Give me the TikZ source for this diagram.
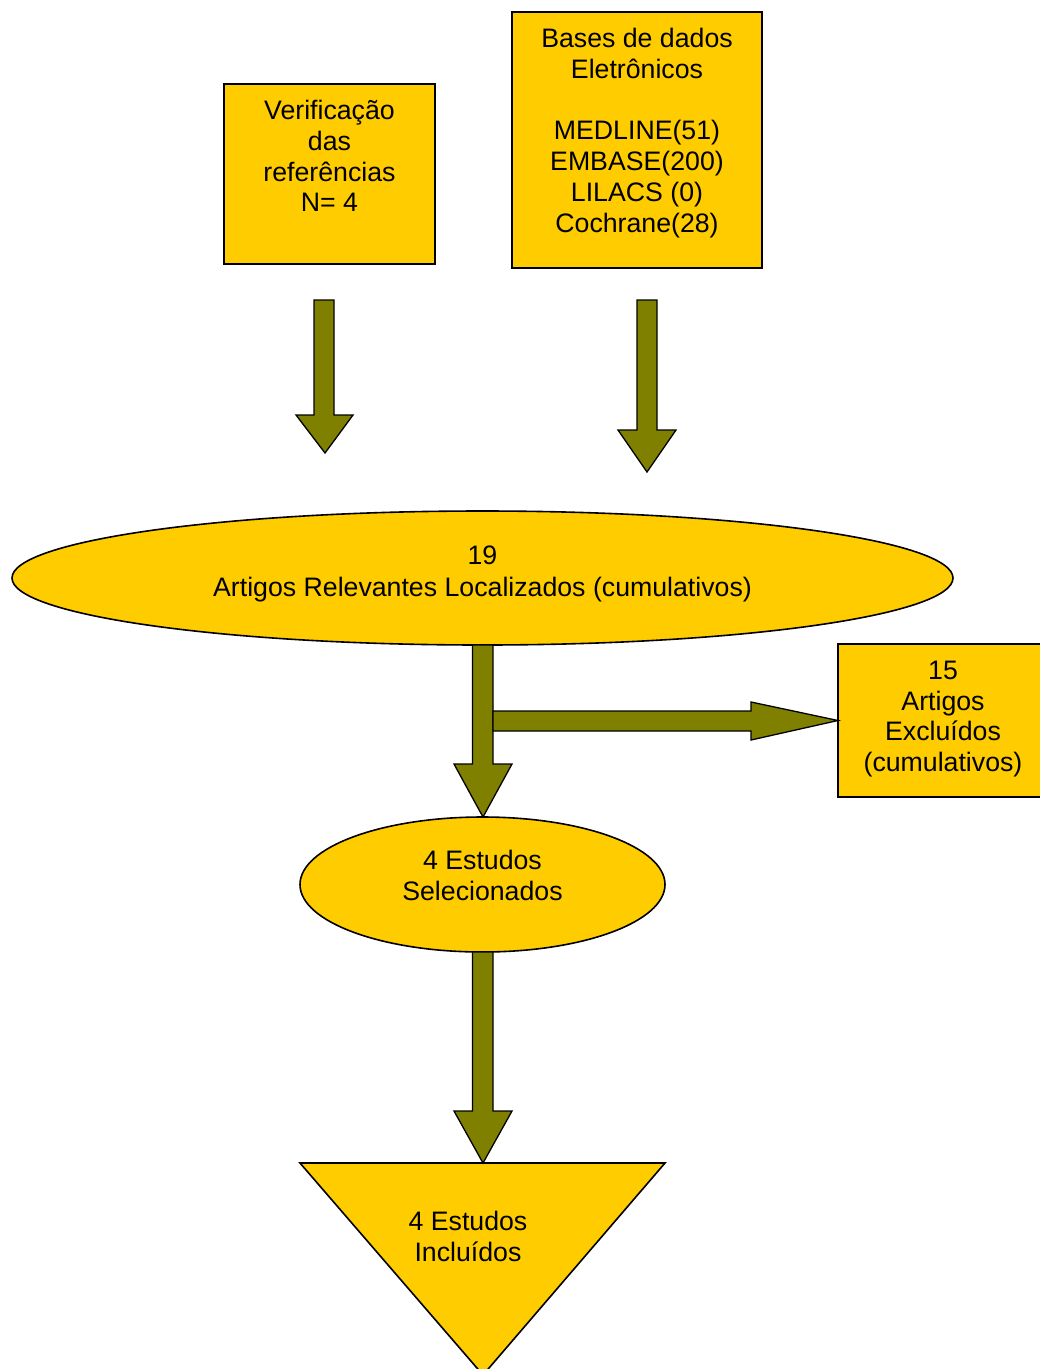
\documentclass[tikz,border=0pt]{standalone}
\usepackage{fontspec}
\setmainfont{Liberation Sans}
\usetikzlibrary{shapes.geometric}
\definecolor{gold}{HTML}{FFCC00}
\definecolor{olivefill}{HTML}{808000}
\begin{document}
\begin{tikzpicture}[x=1pt,y=-1pt,
  every node/.style={font=\fontsize{26.7}{30.8}\selectfont, text=black},
  boxshape/.style={draw=black, line width=1.6pt, fill=gold, rectangle, inner sep=0pt},
  ellshape/.style={draw=black, line width=1.6pt, fill=gold, ellipse, inner sep=0pt},
  fat/.style={draw=black, line width=1.3pt, fill=olivefill, line join=miter},
  label/.style={align=center, inner sep=0pt}]
\useasboundingbox (0,0) rectangle (1040,1369);
\fill[white] (0,0) rectangle (1040,1369);

% top boxes
\node[boxshape, minimum width=211pt, minimum height=180pt] (verif) at (329.5,174) {};
\node[label] (verifT) at (329.5,156) {Verificação\\das\\referências\\N= 4};
\node[boxshape, minimum width=250pt, minimum height=256pt] (bases) at (637,140) {};
\node[label] (basesT) at (637,133) {Bases de dados\\Eletrônicos\\[30.8pt]MEDLINE(51)\\EMBASE(200)\\LILACS (0)\\Cochrane(28)};

% big ellipse
\node[ellshape, minimum width=941pt, minimum height=134pt] (relev) at (482.5,578) {};
\node[label] (relevT) at (482.5,574) {19\\[1.5pt]Artigos Relevantes Localizados (cumulativos)};

% excluded box
\node[boxshape, minimum width=210pt, minimum height=153pt] (excl) at (943,720.5) {};
\node[label] (exclT) at (943,719) {15\\Artigos\\Excluídos\\(cumulativos)};

% selected ellipse
\node[ellshape, minimum width=365pt, minimum height=135pt] (sel) at (482.5,884.5) {};
\node[label] (selT) at (482.5,875.5) {4 Estudos\\Selecionados};

% triangle
\coordinate (triL) at (300,1163);
\coordinate (triR) at (665,1163);
\coordinate (triB) at (483,1375);
\draw[draw=black, line width=1.6pt, fill=gold, line join=miter] (triL) -- (triR) -- (triB) -- cycle;
\node[label] (inclT) at (468,1236.5) {4 Estudos\\Incluídos};

% fat arrows
\draw[fat] (314,300) -- (334,300) -- (334,415) -- (353,415) -- (325,453) -- (296,415) -- (314,415) -- cycle;
\draw[fat] (637,300) -- (657,300) -- (657,430) -- (676,430) -- (647,472) -- (618,430) -- (637,430) -- cycle;
\draw[fat] (472.5,645) -- (493,645) -- (493,764) -- (512,764) -- (483,817) -- (454,764) -- (472.5,764) -- cycle;
\draw[fat] (493,711) -- (751,711) -- (751,702) -- (838,720.5) -- (751,740) -- (751,731) -- (493,731) -- cycle;
\draw[fat] (472.5,952) -- (493,952) -- (493,1111) -- (512,1111) -- (483,1163) -- (454,1111) -- (472.5,1111) -- cycle;
\end{tikzpicture}
\end{document}
